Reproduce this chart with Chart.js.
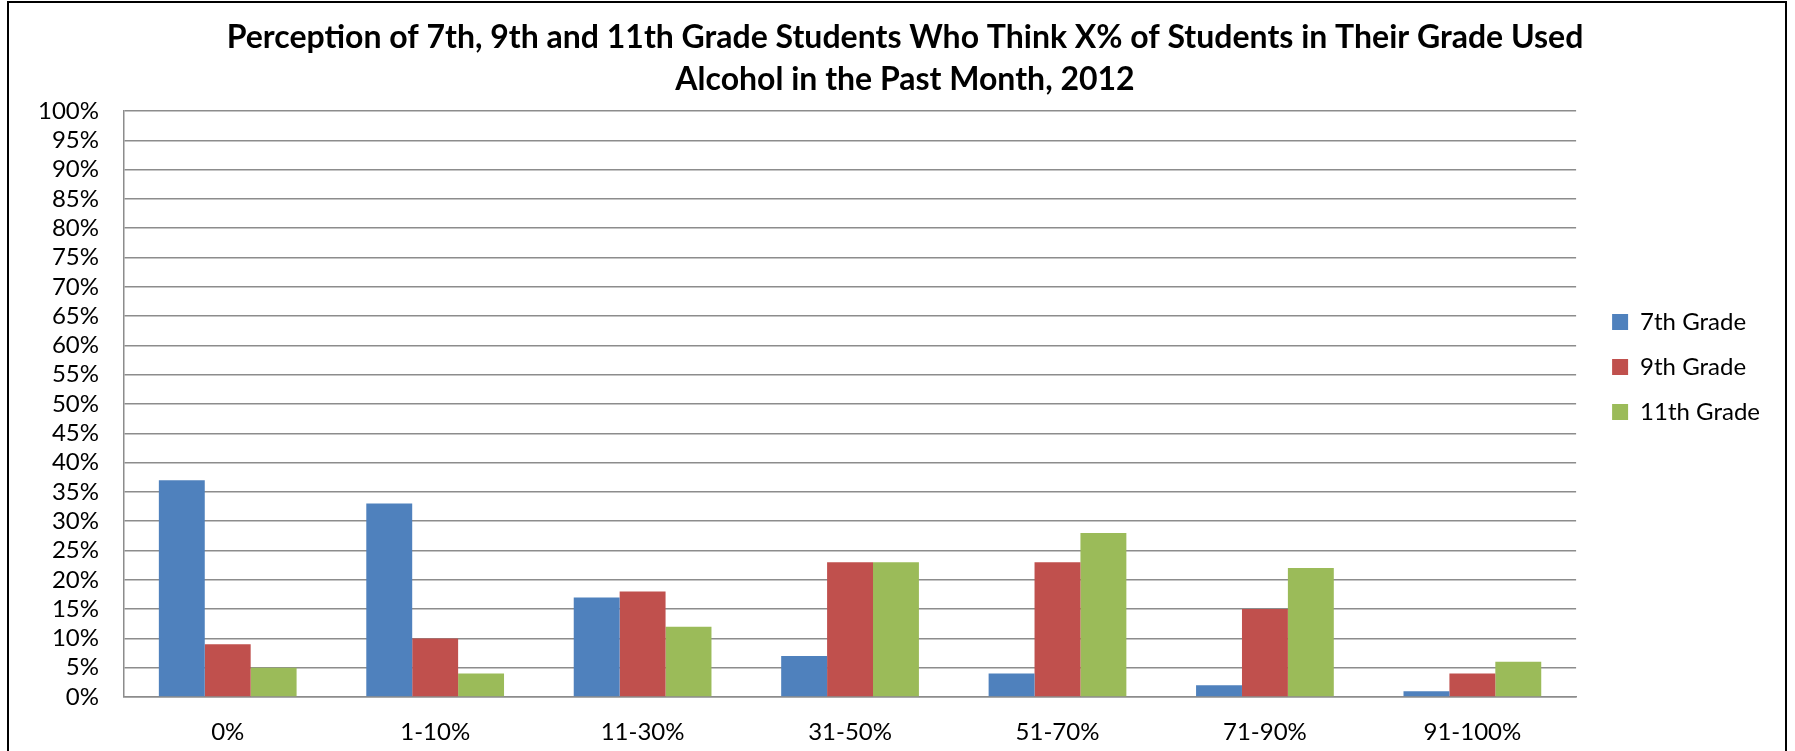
<!DOCTYPE html>
<html>
<head>
<meta charset="utf-8">
<script src="https://cdn.jsdelivr.net/npm/chart.js@4.4.0/dist/chart.umd.min.js"></script>
<style>
  body { margin: 0; overflow: hidden; background: #fff; }
  #frame { position: absolute; left: 7px; top: 1px; width: 1776px; height: 800px; border: 2px solid #000; }
  canvas { display: block; }
</style>
</head>
<body>
<div id="frame"><canvas id="chart" width="1776" height="748"></canvas></div>
<script>
const categories = ['0%', '1-10%', '11-30%', '31-50%', '51-70%', '71-90%', '91-100%'];
const grade7 = [37, 33, 17, 7, 4, 2, 1];
const grade9 = [9, 10, 18, 23, 23, 15, 4];
const grade11 = [5, 4, 12, 23, 28, 22, 6];
const seriesNames = ['7th Grade', '9th Grade', '11th Grade'];
const titleLines = [
  'Perception of 7th, 9th and 11th Grade Students Who Think X% of Students in Their Grade Used',
  'Alcohol in the Past Month, 2012'
];

const FONT = 'Lato, "Liberation Sans", sans-serif';
const gridColor = '#8c8c8c';

const ctx = document.getElementById('chart').getContext('2d');
new Chart(ctx, {
  type: 'bar',
  data: {
    labels: categories,
    datasets: [
      { label: seriesNames[0], data: grade7, backgroundColor: '#4F81BD' },
      { label: seriesNames[1], data: grade9, backgroundColor: '#C0504D' },
      { label: seriesNames[2], data: grade11, backgroundColor: '#9BBB59' }
    ]
  },
  options: {
    responsive: false,
    animation: false,
    events: [],
    layout: { padding: { left: 31, right: 15, top: 0, bottom: 0 } },
    datasets: { bar: { categoryPercentage: 0.664, barPercentage: 1, borderWidth: 0 } },
    plugins: {
      title: {
        display: true,
        text: titleLines,
        color: '#000',
        font: { family: FONT, size: 32, weight: 'bold', lineHeight: 42 / 32 },
        padding: { top: 14, bottom: 10 }
      },
      legend: {
        position: 'right',
        align: 'start',
        // empty legend title only pushes the items down
        title: { display: true, text: ' ', font: { size: 10, lineHeight: 1 }, padding: { top: 276, bottom: 0 } },
        labels: {
          color: '#000',
          boxWidth: 16,
          boxHeight: 16,
          padding: 21,
          font: { family: FONT, size: 24 }
        }
      },
      tooltip: { enabled: false }
    },
    scales: {
      x: {
        grid: { display: false, drawTicks: false },
        border: { display: true, color: gridColor, width: 1.5 },
        ticks: { color: '#000', padding: 21, font: { family: FONT, size: 24 } },
        afterFit: (s) => { s.height = 54; }
      },
      y: {
        min: 0,
        max: 100,
        grid: { color: gridColor, lineWidth: 1.5, drawTicks: false },
        border: { display: true, color: gridColor, width: 1.5 },
        ticks: {
          stepSize: 5,
          autoSkip: false,
          color: '#000',
          padding: 25,
          font: { family: FONT, size: 24 },
          callback: (v) => v + '%'
        },
        afterFit: (s) => { s.width = 84; }
      },
      // spacer between plot and legend
      gap: {
        type: 'linear',
        position: 'right',
        display: true,
        grid: { display: false, drawTicks: false },
        border: { display: false },
        ticks: { display: false },
        afterFit: (s) => { s.width = 15; }
      }
    }
  }
});
</script>
</body>
</html>
